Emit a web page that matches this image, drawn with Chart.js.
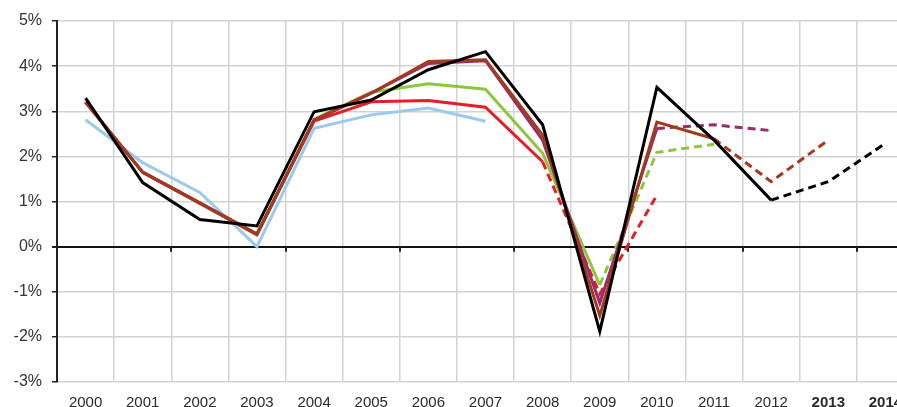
<!DOCTYPE html>
<html>
<head>
<meta charset="utf-8">
<script src="https://cdn.jsdelivr.net/npm/chart.js@4"></script>
<style>
  html, body { margin:0; padding:0; background:#fff; overflow:hidden; }
  #wrap { position:absolute; left:0; top:0; width:920px; height:413px; }
</style>
</head>
<body>
<div id="wrap"><canvas id="c" width="920" height="413"></canvas></div>
<script>
const years = ['2000','2001','2002','2003','2004','2005','2006','2007','2008','2009','2010','2011','2012','2013','2014'];
const boldFrom = 13;
const yTicks = [-3,-2,-1,0,1,2,3,4,5];

const seriesBlack  = [3.29,1.42,0.60,0.46,2.99,3.25,3.92,4.32,2.70,-1.88,3.53,2.36,1.03,1.44,2.29];
const seriesBrown  = [3.21,1.64,0.96,0.26,2.81,3.40,4.10,4.14,2.47,-1.53,2.76,2.39,1.44,2.36,null];
const seriesPurple = [3.20,1.65,0.97,0.28,2.80,3.40,4.06,4.12,2.36,-1.25,2.62,2.70,2.57,null,null];
const seriesGreen  = [3.20,1.65,0.97,0.28,2.82,3.42,3.61,3.49,2.07,-0.85,2.09,2.27,null,null,null];
const seriesRed    = [3.20,1.65,0.97,0.28,2.78,3.21,3.24,3.09,1.88,-1.05,1.14,null,null,null,null];
const seriesBlue   = [2.81,1.86,1.20,0.00,2.62,2.92,3.07,2.78,null,null,null,null,null,null,null];

// index of last solid point (segments after this are dashed)
const solidEndBlack = 12, solidEndBrown = 11, solidEndPurple = 10, solidEndGreen = 9, solidEndRed = 8, solidEndBlue = 99;

function ds(data, color, solidEnd, width) {
  return {
    data, borderColor: color, backgroundColor: color, borderWidth: width,
    pointRadius: 0, tension: 0, fill: false, spanGaps: false,
    borderCapStyle: 'butt', borderJoinStyle: 'miter',
    segment: { borderDash: ctx => ctx.p0DataIndex >= solidEnd ? [8,5] : undefined }
  };
}

const FONT = "'Liberation Sans', Arial, Helvetica, sans-serif";

const zeroTicks = {
  id: 'zeroTicks',
  beforeDatasetsDraw(chart) {
    const x = chart.scales.x, y = chart.scales.y;
    const y0 = y.getPixelForValue(0);
    const n = years.length;
    const w = (x.right - x.left) / n;
    const c = chart.ctx;
    c.save();
    c.strokeStyle = '#222';
    c.lineWidth = 2;
    c.beginPath();
    for (let i = 2; i <= n; i += 2) {
      const px = Math.round(x.left + i * w);
      c.moveTo(px, y0);
      c.lineTo(px, y0 + 5);
    }
    c.stroke();
    c.restore();
  }
};

new Chart(document.getElementById('c'), {
  type: 'line',
  data: {
    labels: years,
    datasets: [
      ds(seriesBlack, '#000000', solidEndBlack, 3),
      ds(seriesBrown, '#A23A1F', solidEndBrown, 3),
      ds(seriesPurple, '#9B2C69', solidEndPurple, 3),
      ds(seriesGreen, '#8DC63F', solidEndGreen, 3),
      ds(seriesRed, '#E31E26', solidEndRed, 3),
      ds(seriesBlue, '#9CCAEC', solidEndBlue, 3)
    ]
  },
  options: {
    responsive: false,
    animation: false,
    layout: { padding: { top: 21, right: 6, left: 0, bottom: 0 } },
    plugins: { legend: { display: false }, tooltip: { enabled: false } },
    scales: {
      x: {
        offset: true,
        afterFit: s => { s.height = 31; },
        grid: { offset: true, color: '#d3d3d3', lineWidth: 1.5, drawTicks: false },
        border: { display: false },
        ticks: {
          padding: 12, color: '#2a2a2a', maxRotation: 0, autoSkip: false,
          font: ctx => ({ family: FONT, size: 15, weight: ctx.index >= boldFrom ? 'bold' : 'normal' })
        }
      },
      y: {
        min: yTicks[0], max: yTicks[yTicks.length - 1],
        afterFit: s => { s.width = 57; },
        afterBuildTicks: s => { s.ticks = yTicks.map(v => ({ value: v })); },
        grid: {
          color: ctx => (ctx.tick && ctx.tick.value === 0) ? '#111' : '#d3d3d3',
          lineWidth: ctx => (ctx.tick && ctx.tick.value === 0) ? 2 : 1.5,
          tickColor: '#222', tickLength: 5, drawTicks: true
        },
        border: { display: true, color: '#222', width: 2 },
        ticks: {
          padding: 10, color: '#333',
          font: { family: FONT, size: 16 },
          callback: v => v + '%'
        }
      }
    }
  },
  plugins: [zeroTicks]
});
</script>
</body>
</html>
